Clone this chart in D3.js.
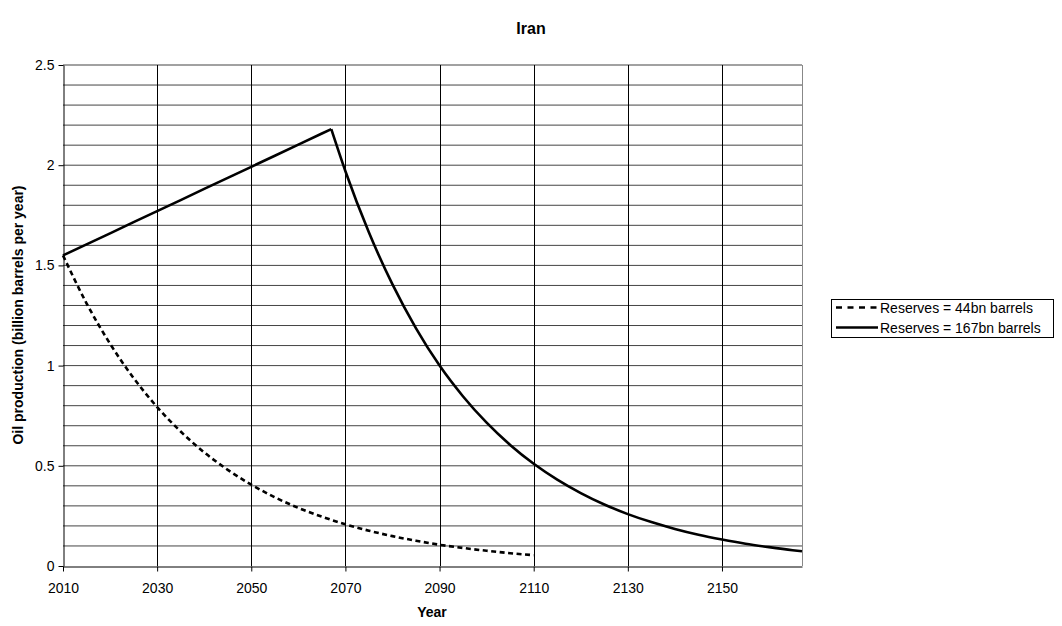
<!DOCTYPE html>
<html>
<head>
<meta charset="utf-8">
<script src="https://cdn.jsdelivr.net/npm/d3@7"></script>
<style>
  body { margin: 0; background: #fff; }
  svg { font-family: "Liberation Sans", Arial, sans-serif; }
</style>
</head>
<body>
<svg id="chart" width="1062" height="626"></svg>
<script>
// Projected Iranian oil production under two reserve assumptions
const years44 = [2010, 2015, 2020, 2025, 2030, 2035, 2040, 2045, 2050, 2055, 2060,
  2065, 2070, 2075, 2080, 2085, 2090, 2095, 2100, 2105, 2110];
const values44 = [1.55, 1.311, 1.109, 0.938, 0.793, 0.671, 0.567, 0.480, 0.406, 0.343, 0.290,
  0.246, 0.208, 0.176, 0.149, 0.126, 0.106, 0.090, 0.076, 0.064, 0.054];

const years167 = [2010, 2015, 2020, 2025, 2030, 2035, 2040, 2045, 2050, 2055, 2060, 2065, 2067,
  2070, 2075, 2080, 2085, 2090, 2095, 2100, 2105, 2110, 2115, 2120, 2125, 2130, 2135,
  2140, 2145, 2150, 2155, 2160, 2165, 2167];
const values167 = [1.55, 1.605, 1.66, 1.716, 1.771, 1.826, 1.882, 1.937, 1.992, 2.047, 2.103, 2.158, 2.18,
  1.970, 1.664, 1.405, 1.186, 1.0, 0.846, 0.715, 0.604, 0.510, 0.431, 0.364, 0.307, 0.259, 0.219,
  0.185, 0.156, 0.132, 0.111, 0.094, 0.079, 0.074];

const xTicks = [2010, 2030, 2050, 2070, 2090, 2110, 2130, 2150];
const yTicks = [0, 0.5, 1, 1.5, 2, 2.5];
const seriesNames = ["Reserves = 44bn barrels", "Reserves = 167bn barrels"];

const svg = d3.select("#chart");
const plotLeft = 63, plotRight = 802, plotTop = 65, plotBottom = 566;

const x = d3.scaleLinear().domain([2010, 2167]).range([plotLeft, plotRight]);
const y = d3.scaleLinear().domain([0, 2.5]).range([plotBottom, plotTop]);

// minor horizontal gridlines every 0.1
const gridY = d3.range(1, 26).map(i => i / 10);
svg.append("g").selectAll("line").data(gridY).join("line")
  .attr("x1", plotLeft).attr("x2", plotRight)
  .attr("y1", d => y(d)).attr("y2", d => y(d))
  .attr("stroke", "#444").attr("stroke-width", 1);

// vertical gridlines at labelled years
svg.append("g").selectAll("line").data(xTicks.slice(1)).join("line")
  .attr("x1", d => Math.round(x(d)) + 0.5).attr("x2", d => Math.round(x(d)) + 0.5)
  .attr("y1", plotTop).attr("y2", plotBottom)
  .attr("stroke", "#000").attr("stroke-width", 1);

// right border
svg.append("line")
  .attr("x1", plotRight + 0.5).attr("x2", plotRight + 0.5).attr("y1", plotTop).attr("y2", plotBottom)
  .attr("stroke", "#888").attr("stroke-width", 1);

// axes
const xAxis = svg.append("g").attr("transform", `translate(0,${plotBottom + 0.5})`)
  .call(d3.axisBottom(x).tickValues(xTicks).tickFormat(d3.format("d")).tickSizeInner(5).tickSizeOuter(0).tickPadding(12));
const yAxis = svg.append("g").attr("transform", `translate(${plotLeft + 0.5},0)`)
  .call(d3.axisLeft(y).tickValues(yTicks).tickFormat(d => String(d)).tickSizeInner(5).tickSizeOuter(0).tickPadding(4));
[xAxis, yAxis].forEach(g => {
  g.select(".domain").attr("stroke", "#000").attr("stroke-width", 1);
  g.selectAll(".tick line").attr("stroke", "#000");
  g.selectAll("text").attr("font-size", 14).attr("fill", "#000")
    .attr("font-family", "'Liberation Sans', Arial, sans-serif");
});

const line = d3.line().x(d => x(d[0])).y(d => y(d[1]));
const pts44 = years44.map((yr, i) => [yr, values44[i]]);
const pts167 = years167.map((yr, i) => [yr, values167[i]]);
const peak = values167.indexOf(d3.max(values167));

// 44bn series, dashed
svg.append("path")
  .attr("d", line.curve(d3.curveMonotoneX)(pts44))
  .attr("fill", "none").attr("stroke", "#000").attr("stroke-width", 2.6)
  .attr("stroke-dasharray", "5,3.5");

// 167bn series: straight rise to the peak, then smooth decline
svg.append("path")
  .attr("d", line.curve(d3.curveLinear)(pts167.slice(0, peak + 1)))
  .attr("fill", "none").attr("stroke", "#000").attr("stroke-width", 2.6)
  .attr("stroke-linejoin", "round");
svg.append("path")
  .attr("d", line.curve(d3.curveMonotoneX)(pts167.slice(peak)))
  .attr("fill", "none").attr("stroke", "#000").attr("stroke-width", 2.6)
  .attr("stroke-linejoin", "round");

// titles
svg.append("text").attr("x", 531).attr("y", 34).attr("text-anchor", "middle")
  .attr("font-size", 16).attr("font-weight", "bold").text("Iran");
svg.append("text").attr("x", 432).attr("y", 617).attr("text-anchor", "middle")
  .attr("font-size", 14).attr("font-weight", "bold").text("Year");
svg.append("text").attr("transform", "translate(23,315) rotate(-90)").attr("text-anchor", "middle")
  .attr("font-size", 14).attr("font-weight", "bold").text("Oil production (billion barrels per year)");

// legend
const lg = svg.append("g");
lg.append("rect").attr("x", 831.5).attr("y", 299.5).attr("width", 222).attr("height", 38)
  .attr("fill", "#fff").attr("stroke", "#000").attr("stroke-width", 1);
seriesNames.forEach((name, i) => {
  const yy = 307.5 + i * 20;
  lg.append("line").attr("x1", 836).attr("x2", 878).attr("y1", yy).attr("y2", yy)
    .attr("stroke", "#000").attr("stroke-width", 2.6)
    .attr("stroke-dasharray", i === 0 ? "6,5.5" : null);
  lg.append("text").attr("x", 880).attr("y", yy + 5).attr("font-size", 14).text(name);
});
</script>
</body>
</html>
